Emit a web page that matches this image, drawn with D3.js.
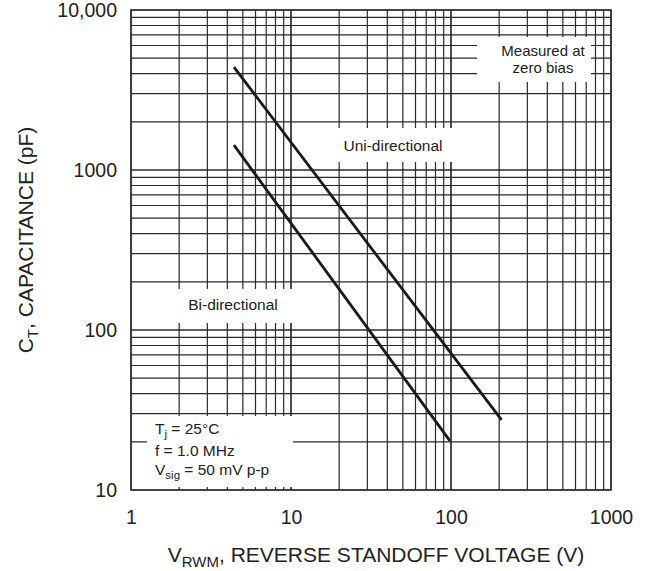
<!DOCTYPE html>
<html><head><meta charset="utf-8">
<script src="https://cdn.jsdelivr.net/npm/d3@7"></script>
<style>
html,body{margin:0;padding:0;background:#fff;}
svg text{font-family:"Liberation Sans",Arial,sans-serif;fill:#222;}
</style></head>
<body><svg id="c" width="647" height="571"></svg>
<script>
// ---- data ----
const xTickValues = [1, 10, 100, 1000];
const xTickLabels = ["1", "10", "100", "1000"];
const yTickValues = [10, 100, 1000, 10000];
const yTickLabels = ["10", "100", "1000", "10,000"];
const uniVoltage = [4.4, 207];
const uniCapacitance = [4400, 27.4];
const biVoltage = [4.4, 98.5];
const biCapacitance = [1430, 20.3];

const svg = d3.select("#c");
const x = d3.scaleLog().domain([1, 1000]).range([131, 611]);
const y = d3.scaleLog().domain([10, 10000]).range([490, 10]);

// grid values
const xGrid = [], yGrid = [];
for (let d = 1; d < 1000; d *= 10) for (let m = 1; m <= 10; m++) xGrid.push(d * m);
for (let d = 10; d < 10000; d *= 10) for (let m = 1; m <= 10; m++) yGrid.push(d * m);

const g = svg.append("g");
g.selectAll("line.vx").data(xGrid).join("line")
  .attr("x1", d => x(d)).attr("x2", d => x(d))
  .attr("y1", y(10)).attr("y2", y(10000))
  .attr("stroke", "#2a2a2a").attr("stroke-width", 1.2);
g.selectAll("line.hy").data(yGrid).join("line")
  .attr("x1", x(1)).attr("x2", x(1000))
  .attr("y1", d => y(d)).attr("y2", d => y(d))
  .attr("stroke", "#2a2a2a").attr("stroke-width", 1.2);

// white boxes behind annotations
const boxes = [
  [477, 37, 114, 45],   // measured at zero bias
  [337, 128, 116, 34],  // uni
  [168, 289, 128, 34],  // bi
  [147, 416, 146, 71]   // conditions
];
g.selectAll("rect.b").data(boxes).join("rect")
  .attr("x", d => d[0]).attr("y", d => d[1]).attr("width", d => d[2]).attr("height", d => d[3])
  .attr("fill", "#fff");

// border
g.append("rect").attr("x", x(1)).attr("y", y(10000))
  .attr("width", x(1000) - x(1)).attr("height", y(10) - y(10000))
  .attr("fill", "none").attr("stroke", "#2a2a2a").attr("stroke-width", 1.5);

// data lines
const line = d3.line().x(d => x(d[0])).y(d => y(d[1]));
const series = [
  uniVoltage.map((v, i) => [v, uniCapacitance[i]]),
  biVoltage.map((v, i) => [v, biCapacitance[i]])
];
g.selectAll("path.s").data(series).join("path")
  .attr("d", line).attr("fill", "none").attr("stroke", "#1a1a1a").attr("stroke-width", 2.8);

// axes tick labels
const xAxis = d3.axisBottom(x).tickValues(xTickValues)
  .tickFormat((d, i) => xTickLabels[i]).tickSize(0).tickPadding(0);
const xa = svg.append("g").attr("transform", "translate(0,490)").call(xAxis);
xa.select(".domain").remove();
xa.selectAll("text").attr("font-size", 19.5).attr("dy", null).attr("y", 34)
  .attr("fill", "#222").style("font-family", '"Liberation Sans",Arial,sans-serif');

const yAxis = d3.axisLeft(y).tickValues(yTickValues)
  .tickFormat((d, i) => yTickLabels[i]).tickSize(0).tickPadding(0);
const ya = svg.append("g").attr("transform", "translate(117,0)").call(yAxis);
ya.select(".domain").remove();
ya.selectAll("text").attr("font-size", 19.5).attr("x", 0).attr("dy", "0.35em")
  .attr("fill", "#222").style("font-family", '"Liberation Sans",Arial,sans-serif');

// axis titles
const xt = svg.append("text").attr("x", 376).attr("y", 562).attr("text-anchor", "middle")
  .attr("font-size", 21);
xt.append("tspan").text("V");
xt.append("tspan").text("RWM").attr("font-size", 15).attr("dy", 5);
xt.append("tspan").text(", REVERSE STANDOFF VOLTAGE (V)").attr("dy", -5);

const yt = svg.append("text").attr("transform", "translate(33,240) rotate(-90)")
  .attr("text-anchor", "middle").attr("font-size", 21);
yt.append("tspan").text("C");
yt.append("tspan").text("T").attr("font-size", 15).attr("dy", 5);
yt.append("tspan").text(", CAPACITANCE (pF)").attr("dy", -5);

// annotations
const fs = 15.5;
svg.append("text").attr("x", 543).attr("y", 55.5).attr("text-anchor", "middle").attr("font-size", 15).text("Measured at");
svg.append("text").attr("x", 543).attr("y", 73).attr("text-anchor", "middle").attr("font-size", 15).text("zero bias");
svg.append("text").attr("x", 393).attr("y", 151).attr("text-anchor", "middle").attr("font-size", fs).text("Uni-directional");
svg.append("text").attr("x", 233).attr("y", 310).attr("text-anchor", "middle").attr("font-size", fs).text("Bi-directional");

const t1 = svg.append("text").attr("x", 155).attr("y", 434).attr("font-size", fs);
t1.append("tspan").text("T");
t1.append("tspan").text("j").attr("font-size", 11.5).attr("dy", 4);
t1.append("tspan").text(" = 25°C").attr("dy", -4);
svg.append("text").attr("x", 155).attr("y", 456).attr("font-size", fs).text("f = 1.0 MHz");
const t3 = svg.append("text").attr("x", 155).attr("y", 475).attr("font-size", fs);
t3.append("tspan").text("V");
t3.append("tspan").text("sig").attr("font-size", 11.5).attr("dy", 4);
t3.append("tspan").text(" = 50 mV p-p").attr("dy", -4);
</script></body></html>
